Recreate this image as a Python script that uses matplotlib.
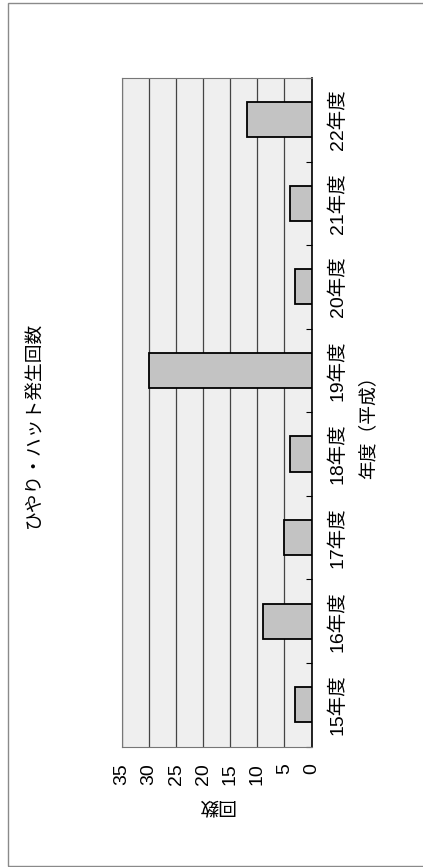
import matplotlib
matplotlib.use("Agg")
import matplotlib.pyplot as plt
from matplotlib.patches import Rectangle

plt.rcParams['font.family'] = ['Liberation Sans', 'Noto Sans CJK JP', 'DejaVu Sans']

title = "ひやり・ハット発生回数"
categories = ["15年度", "16年度", "17年度", "18年度", "19年度", "20年度", "21年度", "22年度"]
values = [3, 9, 5, 4, 30, 3, 4, 12]
value_ticks = [0, 5, 10, 15, 20, 25, 30, 35]
value_label = "回数"
category_label = "年度（平成）"

W, H = 423, 867
fig = plt.figure(figsize=(W / 100, H / 100), dpi=100)
fig.patch.set_facecolor("white")

# outer frame of the scanned page
fig.patches.append(Rectangle((8 / W, 1 - 866 / H), 1.2, (866 - 3) / H,
                             transform=fig.transFigure, fill=False,
                             edgecolor="#8a8a8a", linewidth=1.0))

left, right = 122 / W, 311.5 / W
bottom, top = 1 - 746.5 / H, 1 - 78 / H
ax = fig.add_axes([left, bottom, right - left, top - bottom])
ax.set_facecolor("#efefef")

pos = list(range(len(categories)))
ax.barh(pos, values, height=0.42, color="#c3c3c3", edgecolor="black",
        linewidth=1.3, zorder=3)

ax.set_xlim(35, 0)
ax.set_ylim(-0.5, len(categories) - 0.5)

ax.set_xticks(value_ticks)
ax.set_xticklabels([str(v) for v in value_ticks], rotation=90, fontsize=14)
ax.tick_params(axis="x", length=0, pad=12)
ax.xaxis.grid(True, color="#444444", linewidth=0.9, zorder=1)

ax.yaxis.tick_right()
ax.set_yticks(pos)
ax.set_yticklabels(categories, rotation=90, fontsize=14, va="center")
ax.tick_params(axis="y", which="major", length=0, pad=12)
ax.set_yticks([p - 0.5 for p in pos] + [len(pos) - 0.5], minor=True)
ax.tick_params(axis="y", which="minor", length=4, direction="in",
               width=0.8, right=True, left=False)

for s in ["left", "top", "bottom"]:
    ax.spines[s].set_linestyle((0, (1, 1)))
    ax.spines[s].set_color("#777777")
    ax.spines[s].set_linewidth(0.8)
ax.spines["right"].set_color("black")
ax.spines["right"].set_linewidth(1.2)
ax.set_axisbelow(True)

fig.text(34.5 / W, 1 - 425 / H, title, rotation=90, ha="center", va="center",
         fontsize=13.5)
fig.text(368 / W, 1 - 423 / H, category_label, rotation=90, ha="center",
         va="center", fontsize=13.5)
fig.text(216 / W, 1 - 805 / H, value_label, rotation=180, ha="center",
         va="center", fontsize=13.5)

fig.savefig("out.png", dpi=100)
